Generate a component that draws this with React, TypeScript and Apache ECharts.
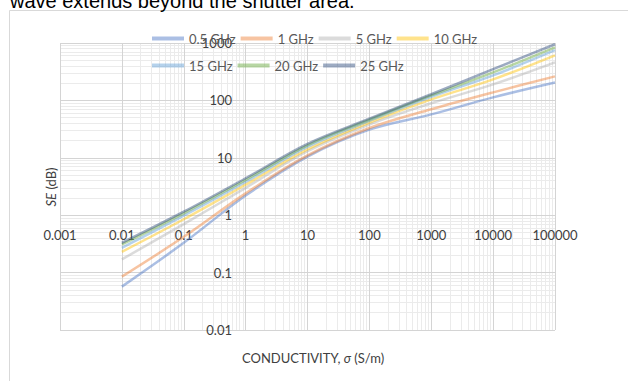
import React, { useEffect, useRef } from 'react';
import * as echarts from 'echarts';

const conductivity = [0.01, 0.1, 1, 10, 100, 1000, 10000, 100000];
const se05 = [0.057, 0.33, 2.2, 10.5, 31, 57, 113, 205];
const se1 = [0.085, 0.42, 2.4, 11, 33, 70, 138, 262];
const se5 = [0.17, 0.7, 3.0, 13, 38, 89, 190, 460];
const se10 = [0.23, 0.85, 3.4, 14, 41, 104, 232, 610];
const se15 = [0.27, 0.98, 3.8, 15.5, 44, 115, 273, 750];
const se20 = [0.31, 1.08, 4.1, 16.5, 46, 122, 307, 840];
const se25 = [0.33, 1.15, 4.4, 17.5, 48, 128, 350, 950];

const seriesNames = ['0.5 GHz', '1 GHz', '5 GHz', '10 GHz', '15 GHz', '20 GHz', '25 GHz'];
const seriesValues = [se05, se1, se5, se10, se15, se20, se25];
const seriesColors = [
  'rgba(68,114,196,0.45)',
  'rgba(237,125,49,0.45)',
  'rgba(165,165,165,0.40)',
  'rgba(255,192,0,0.45)',
  'rgba(91,155,213,0.45)',
  'rgba(112,173,71,0.50)',
  'rgba(38,68,120,0.45)',
];

const xTickLabels = ['0.001', '0.01', '0.1', '1', '10', '100', '1000', '10000', '100000'];
const yTickLabels = ['0.01', '0.1', '1', '10', '100', '1000'];

const FONT = 'Lato, "Open Sans", sans-serif';

function minorValues(labels: string[]): number[] {
  const out: number[] = [];
  for (let i = 0; i < labels.length - 1; i++) {
    const base = Number(labels[i]);
    for (let k = 2; k <= 9; k++) out.push(Number((base * k).toPrecision(6)));
  }
  return out;
}

function labelFor(labels: string[]) {
  return (v: number) => {
    for (const l of labels) {
      const n = Number(l);
      if (Math.abs(Math.log10(n) - Math.log10(v)) < 1e-6) return l;
    }
    return '';
  };
}

export default function App() {
  const ref = useRef<HTMLDivElement>(null);
  useEffect(() => {
    if (!ref.current) return;
    const chart = echarts.init(ref.current, null, { renderer: 'svg' });
    const xMinor = minorValues(xTickLabels);
    const yMinor = minorValues(yTickLabels);
    const legendCommon = {
      left: 147,
      itemWidth: 32,
      itemHeight: 4,
      itemGap: 5,
      icon: 'rect',
      selectedMode: false,
      z: 10,
      textStyle: { width: 48, fontFamily: FONT, fontSize: 13, color: '#595959' },
    };
    const axisLabelCommon = {
      fontFamily: FONT,
      fontSize: 13,
      color: '#404040',
      showMinLabel: true,
      showMaxLabel: true,
    };
    chart.setOption({
      animation: false,
      backgroundColor: '#fff',
      grid: { left: 60, right: 73, top: 43, bottom: 51 },
      legend: [
        { ...legendCommon, top: 27, data: seriesNames.slice(0, 4) },
        { ...legendCommon, top: 54, data: seriesNames.slice(4) },
      ],
      xAxis: {
        type: 'log',
        logBase: 10,
        min: Number(xTickLabels[0]),
        max: Number(xTickLabels[xTickLabels.length - 1]),
        splitNumber: xTickLabels.length - 1,
        offset: -114,
        z: 2,
        axisLine: { show: false },
        axisTick: { show: false },
        axisLabel: { ...axisLabelCommon, margin: 12, formatter: labelFor(xTickLabels) },
        splitLine: { show: true, lineStyle: { color: '#d4d4d4', width: 1 } },
      },
      yAxis: {
        type: 'log',
        logBase: 10,
        min: Number(yTickLabels[0]),
        max: Number(yTickLabels[yTickLabels.length - 1]),
        splitNumber: yTickLabels.length - 1,
        offset: -186,
        z: 2,
        axisLine: { show: false },
        axisTick: { show: false },
        axisLabel: { ...axisLabelCommon, margin: 14, formatter: labelFor(yTickLabels) },
        splitLine: { show: true, lineStyle: { color: '#d4d4d4', width: 1 } },
      },
      graphic: [
        {
          type: 'rect',
          z: 0,
          shape: { x: 9.5, y: 10.5, width: 700, height: 400 },
          style: { fill: 'none', stroke: '#d9d9d9', lineWidth: 1 },
          silent: true,
        },
        {
          type: 'text',
          x: 10,
          y: 0.5,
          style: {
            text: 'wave extends beyond the shutter area.',
            fontFamily: '"Liberation Sans", Arial, sans-serif',
            fontSize: 20,
            fill: '#000',
            align: 'left',
            verticalAlign: 'middle',
          },
          silent: true,
        },
        {
          type: 'text',
          x: 242,
          y: 358,
          style: {
            text: '{a|CONDUCTIVITY, }{b|σ}{a| (S/m)}',
            rich: {
              a: { fontFamily: FONT, fontSize: 13, fill: '#404040' },
              b: { fontFamily: FONT, fontSize: 13, fontStyle: 'italic', fill: '#404040' },
            },
            align: 'left',
            verticalAlign: 'middle',
          },
          silent: true,
        },
        {
          type: 'text',
          x: 51,
          y: 187,
          rotation: Math.PI / 2,
          style: {
            text: '{b|SE}{a| (dB)}',
            rich: {
              a: { fontFamily: FONT, fontSize: 13, fill: '#404040' },
              b: { fontFamily: FONT, fontSize: 13, fontStyle: 'italic', fill: '#404040' },
            },
            align: 'center',
            verticalAlign: 'middle',
          },
          silent: true,
        },
      ],
      series: [
        {
          type: 'line',
          name: 'grid-minor',
          data: [],
          silent: true,
          z: 1,
          markLine: {
            z: 1,
            symbol: 'none',
            silent: true,
            animation: false,
            label: { show: false },
            emphasis: { disabled: true },
            lineStyle: { color: '#ebebeb', width: 1, type: 'solid' },
            data: [
              ...xMinor.map((v) => ({ xAxis: v })),
              ...yMinor.map((v) => ({ yAxis: v })),
            ],
          },
        },
        ...seriesNames.map((name, i) => ({
          type: 'line',
          name,
          z: 3,
          color: seriesColors[i],
          data: conductivity.map((x, j) => [x, seriesValues[i][j]]),
          showSymbol: false,
          smooth: 0.35,
          lineStyle: { width: 2.5, color: seriesColors[i] },
          emphasis: { disabled: true },
        })),
      ],
    });
    return () => chart.dispose();
  }, []);
  return (
    <div
      ref={ref}
      style={{ position: 'fixed', left: 0, top: 0, width: 628, height: 381 }}
    />
  );
}
